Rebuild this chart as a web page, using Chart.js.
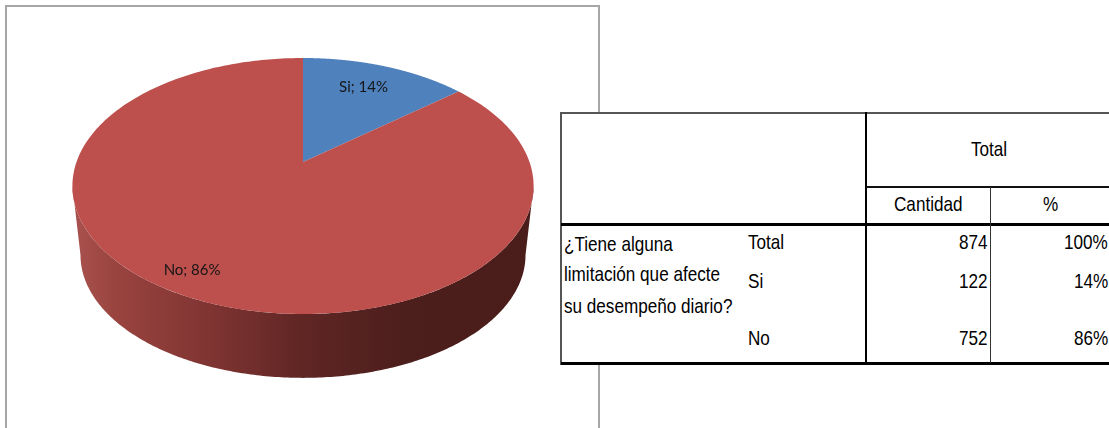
<!DOCTYPE html>
<html lang="es">
<head>
<meta charset="utf-8">
<title>¿Tiene alguna limitación que afecte su desempeño diario?</title>
<script src="https://cdn.jsdelivr.net/npm/chart.js@4/dist/chart.umd.min.js"></script>
<style>
html,body{margin:0;padding:0;background:#fff;overflow:hidden}
#stage{position:relative;width:1109px;height:428px;overflow:hidden;filter:blur(.4px)}
#chart{position:absolute;left:0;top:0}
#frame{position:absolute;left:5px;top:5px;width:591px;height:440px;border:2px solid #a6a6a6}
#tbl{position:absolute;left:561px;top:113px;width:560px;height:252px;background:#fff}
.ln{position:absolute}
.t{position:absolute;font-family:"Liberation Sans",Arial,sans-serif;font-size:21px;line-height:24px;color:#000;white-space:nowrap;transform-origin:0 50%}
</style>
</head>
<body>
<div id="stage">
  <div id="frame"></div>
  <canvas id="chart" width="1109" height="428"></canvas>
  <div id="tbl"></div>
</div>
<script>
const categories = ["Si", "No"];
const counts = [122, 752];
const sliceColors = ["#4F81BD", "#BD4F4C"];
const questionLines = ["¿Tiene alguna", "limitación que afecte", "su desempeño diario?"];
const rowLabels = ["Total", "Si", "No"];
const rowCounts = ["874", "122", "752"];
const rowPercents = ["100%", "14%", "86%"];
const columnHeaders = ["Cantidad", "%"];
const spanHeader = "Total";

/* perspective view of the flat pie */
const view = {cx:303, apexY:162, a:93.125, persp:-0.1875, k:226.5};
function project(angle, r){
  const u = Math.cos(angle)*r, v = Math.sin(angle)*r;
  const d = 1 + view.persp*v;
  return [view.cx + view.k*u/d, (view.a*v + view.apexY)/d];
}
const base = {sx:0.965, sy:0.96, midY:186, dy:69};
function lower(p){
  return [view.cx + (p[0]-view.cx)*base.sx, base.midY + base.dy + (p[1]-base.midY)*base.sy];
}
const vWide = -view.persp;            // rim point where the outline is widest
const aRight = Math.asin(vWide), aLeft = Math.PI - aRight;

const pie3d = {
  id:"pie3d",
  beforeDatasetDraw(chart){
    const c = chart.ctx, arcs = chart.getDatasetMeta(0).data;
    // side wall
    c.save();
    c.beginPath();
    const n = 240;
    for(let i=0;i<=n;i++){
      const p = project(aRight+(aLeft-aRight)*i/n,1);
      i ? c.lineTo(p[0],p[1]) : c.moveTo(p[0],p[1]);
    }
    for(let i=n;i>=0;i--){
      const p = lower(project(aRight+(aLeft-aRight)*i/n,1));
      c.lineTo(p[0],p[1]);
    }
    c.closePath();
    const g = c.createLinearGradient(72,0,534,0);
    g.addColorStop(0,"#A9524F");
    g.addColorStop(0.1,"#99433F");
    g.addColorStop(0.3,"#7F3432");
    g.addColorStop(0.5,"#5F2624");
    g.addColorStop(0.72,"#4C1E1C");
    g.addColorStop(1,"#4A1D1B");
    c.fillStyle = g;
    c.fill();
    // top face
    arcs.forEach((arc,i)=>{
      const s = arc.startAngle, e = arc.endAngle, steps = 300;
      c.beginPath();
      const o = project(0,0);
      c.moveTo(o[0],o[1]);
      for(let j=0;j<=steps;j++){
        const p = project(s+(e-s)*j/steps,1);
        c.lineTo(p[0],p[1]);
      }
      c.closePath();
      c.fillStyle = sliceColors[i];
      c.fill();
    });
    c.restore();
    return false;
  },
  afterDatasetsDraw(chart){
    const c = chart.ctx, arcs = chart.getDatasetMeta(0).data;
    const total = counts.reduce((a,b)=>a+b,0);
    const nudge = [[-5,1],[-18,0]];
    const reach = [0.77,0.83];
    c.save();
    c.font = "15px Lato, 'Noto Sans', sans-serif";
    c.fillStyle = "#161616";
    c.textAlign = "center";
    c.textBaseline = "middle";
    arcs.forEach((arc,i)=>{
      const p = project((arc.startAngle+arc.endAngle)/2, reach[i]);
      const txt = categories[i]+"; "+Math.round(counts[i]/total*100)+"%";
      c.fillText(txt,p[0]+nudge[i][0],p[1]+nudge[i][1]);
    });
    c.restore();
  }
};

new Chart(document.getElementById("chart"),{
  type:"pie",
  data:{labels:categories,datasets:[{data:counts,backgroundColor:sliceColors,borderWidth:0}]},
  options:{
    responsive:false,animation:false,
    layout:{padding:{right:503}},
    plugins:{legend:{display:false},tooltip:{enabled:false}}
  },
  plugins:[pie3d]
});

/* table */
const tbl = document.getElementById("tbl");
const OX=561, OY=113;
function line(x,y,w,h,col){
  const d=document.createElement("div");d.className="ln";
  d.style.cssText=`left:${x-OX}px;top:${y-OY}px;width:${w}px;height:${h}px;background:${col}`;
  tbl.appendChild(d);
}
line(561,112,548,2,"#555");
line(560,112,2,253,"#555");
line(561,223,548,3,"#000");
line(561,362,548,3,"#000");
line(865,112,2,253,"#000");
line(866,186,243,2,"#111");
line(990,187,1,176,"#333");

const SX = 0.815;
function text(s,x,y,align){
  const d=document.createElement("div");d.className="t";d.textContent=s;
  tbl.appendChild(d);
  const w=d.getBoundingClientRect().width*SX;
  const left = align==="c" ? x-w/2 : align==="r" ? x-w : x;
  d.style.left=(left-OX)+"px";
  d.style.top=(y-12-OY)+"px";
  d.style.transform=`scaleX(${SX})`;
}
text(spanHeader,989,149,"c");
text(columnHeaders[0],928,204,"c");
text(columnHeaders[1],1051,204,"c");
const qY=[244,274,306];
questionLines.forEach((s,i)=>text(s,564,qY[i],"l"));
const rY=[242,281,338];
rowLabels.forEach((s,i)=>text(s,748,rY[i],"l"));
rowCounts.forEach((s,i)=>text(s,988,rY[i],"r"));
rowPercents.forEach((s,i)=>text(s,1108,rY[i],"r"));
</script>
</body>
</html>
